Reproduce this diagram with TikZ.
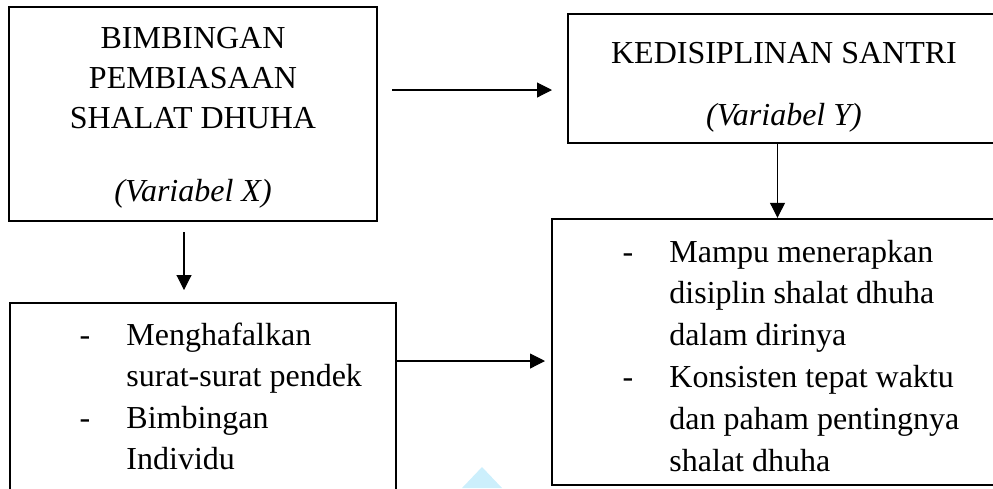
\documentclass[tikz,border=0pt]{standalone}
\usepackage{fontspec}
\setmainfont{Liberation Serif}
\usetikzlibrary{arrows.meta}

\begin{document}
\begin{tikzpicture}[x=0.375pt,y=-0.375pt,
	kotak/.style={draw,line width=0.9pt,inner sep=0pt},
	teks/.style={inner sep=0pt,font=\fontsize{12}{15}\selectfont},
	panah/.style={line width=0.4pt,-{Triangle[length=5.6pt,width=5.6pt]}}]
	\useasboundingbox (0,0) rectangle (993,488);
	\clip (0,0) rectangle (993,488);
	% kotak-kotak
	\node[kotak,minimum width=138pt,minimum height=80.25pt] (varx) at (193,114) {};
	\node[kotak,minimum width=163.1pt,minimum height=48.4pt] (vary) at (785.5,78.5) {};
	\node[kotak,minimum width=144.75pt,minimum height=81.4pt] (indx) at (203,411.5) {};
	\node[kotak,minimum width=169.1pt,minimum height=99.75pt] (indy) at (777.5,352) {};
	% isi
	\node[teks,anchor=base] (tvarx) at (193,48) {\renewcommand{\arraystretch}{1}\begin{tabular}[t]{@{}c@{}}
		BIMBINGAN\\ PEMBIASAAN\\ SHALAT DHUHA\\[12.4pt] \textit{(Variabel X)}\end{tabular}};
	\node[teks,anchor=base] (tvary) at (784,63) {\begin{tabular}[t]{@{}c@{}}
		KEDISIPLINAN SANTRI\\[8.6pt] \textit{(Variabel Y)}\end{tabular}};
	\node[teks,anchor=base west] (tindx) at (79,345) {\fontsize{12}{15.6}\selectfont\begin{tabular}[t]{@{}p{17.6pt}@{}l@{}}
		- & Menghafalkan\\ & surat-surat pendek\\ - & Bimbingan\\ & Individu\end{tabular}};
	\node[teks,anchor=base west] (tindy) at (622,262) {\fontsize{12}{15.7}\selectfont\begin{tabular}[t]{@{}p{17.6pt}@{}l@{}}
		- & Mampu menerapkan\\ & disiplin shalat dhuha\\ & dalam dirinya\\
		- & Konsisten tepat waktu\\ & dan paham pentingnya\\ & shalat dhuha\end{tabular}};
	% panah
	\coordinate (xa) at (392,90);
	\coordinate (xb) at (552,90);
	\coordinate (xc) at (184,232);
	\coordinate (xd) at (184,290);
	\coordinate (xe) at (545,361);
	\draw[panah] (xa) -- (xb);
	\draw[panah] (xc) -- (xd);
	\draw[panah] (vary.south -| indy.north) -- (indy.north);
	\draw[panah] (indx.east |- xe) -- (xe);
	% sisa tanda air
	\fill[cyan!20] (482,467) -- (502,488) -- (462,488) -- cycle;
\end{tikzpicture}
\end{document}
